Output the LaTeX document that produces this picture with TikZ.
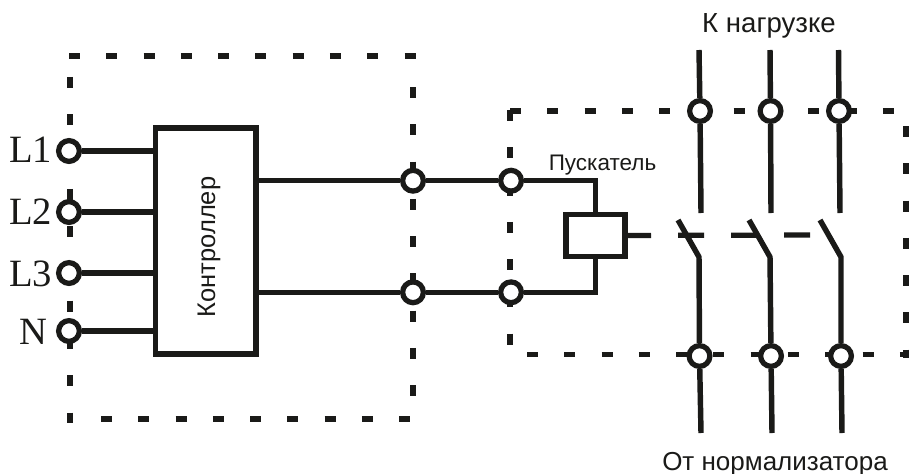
\documentclass[tikz,border=0pt]{standalone}
\usepackage{fontspec}
\setmainfont{Liberation Sans}
\newfontfamily\labelfont{Liberation Serif}
\usepackage{xcolor}
\definecolor{inkcol}{HTML}{1A1A18}
\usetikzlibrary{positioning}
\tikzset{
  wire/.style={line width=3.1pt,color=inkcol},
  boxline/.style={line width=3.3pt,color=inkcol,dash pattern=on 6.26pt off 14.96pt},
  linkline/.style={line width=3pt,color=inkcol,dash pattern=on 14.8pt off 15.4pt},
  terminal/.style={circle,draw=inkcol,fill=white,line width=3pt,minimum size=11.8pt,inner sep=0pt},
  blockbox/.style={draw=inkcol,fill=white,line width=3.1pt,inner sep=0pt,outer sep=0pt,anchor=north west},
  phase/.style={font=\labelfont\fontsize{22}{24}\selectfont,text=inkcol,inner sep=0pt,anchor=base west},
  caption/.style={text=inkcol,inner sep=0pt,anchor=base}
}
\begin{document}
\begin{tikzpicture}[line cap=butt,line join=miter,x=0.02cm,y=-0.02cm]
\useasboundingbox (0,0) rectangle (911,473);
% dashed enclosures
\draw [boxline] (69,56)-- (416,56);
\draw [boxline] (70,77)-- (70,423);
\draw [boxline] (413,87)-- (413,397);
\draw [boxline] (101,419)-- (411,419);
\draw [boxline] (510,111)-- (895,111);
\draw [boxline] (510,110)-- (510,346);
\draw [boxline] (527,354.5)-- (908,354.5);
\draw [boxline] (906,126)-- (906,358);
% terminals
\node [terminal] (tL1) at (69,151) {};
\node [terminal] (tL2) at (69,212) {};
\node [terminal] (tL3) at (69,273) {};
\node [terminal] (tN) at (69,331) {};
\node [terminal] (tA1) at (413,180.7) {};
\node [terminal] (tA2) at (413,292.3) {};
\node [terminal] (tB1) at (511,180.7) {};
\node [terminal] (tB2) at (511,292.3) {};
\node [terminal] (tU1) at (700,111) {};
\node [terminal] (tU2) at (770.5,111) {};
\node [terminal] (tU3) at (839,111) {};
\node [terminal] (tD1) at (699.5,356) {};
\node [terminal] (tD2) at (771,356) {};
\node [terminal] (tD3) at (841,356) {};
% blocks
\node [blockbox,minimum width=2.01cm,minimum height=4.52cm] (ctrl) at (155.5,128) {};
\node [rotate=90,font=\fontsize{14.5}{17}\selectfont,text=inkcol,inner sep=0pt] (ctrltext) at (209,247) {Контроллер};
\node [blockbox,minimum width=1.18cm,minimum height=0.84cm] (coil) at (566,214.5) {};
% labels
\node [phase] (lL1) at (9,162) {L1};
\node [phase] (lL2) at (9,224) {L2};
\node [phase] (lL3) at (9,286) {L3};
\node [phase] (lN) at (19,344) {N};
\node [caption,font=\fontsize{15.7}{18}\selectfont] (load) at (769,33) {К нагрузке};
\node [caption,font=\fontsize{14.8}{18}\selectfont] (normal) at (775,470) {От нормализатора};
\node [caption,font=\fontsize{12.8}{15}\selectfont] (starter) at (602.5,170) {Пускатель};
% controller wiring
\draw [wire] (tL1)-- (tL1 -| ctrl.west);
\draw [wire] (tL2)-- (tL2 -| ctrl.west);
\draw [wire] (tL3)-- (tL3 -| ctrl.west);
\draw [wire] (tN)-- (tN -| ctrl.west);
\draw [wire] (tA1 -| ctrl.east)-- (tA1);
\draw [wire] (tA2 -| ctrl.east)-- (tA2);
\draw [wire] (tA1)-- (tB1);
\draw [wire] (tA2)-- (tB2);
\draw [wire] (tB1)-| (coil.north);
\draw [wire] (tB2)-| (coil.south);
% contacts
\coordinate (inU1) at (699,50);
\coordinate (inU2) at (770,50);
\coordinate (inU3) at (838.5,50);
\coordinate (fixU1) at (701,213);
\coordinate (fixU2) at (771,213);
\coordinate (fixU3) at (840,213);
\coordinate (tipC1) at (678,220);
\coordinate (tipC2) at (749,220);
\coordinate (tipC3) at (820,220);
\coordinate (hingeC1) at (699,257);
\coordinate (hingeC2) at (770,257);
\coordinate (hingeC3) at (841,257);
\coordinate (outD1) at (701,433);
\coordinate (outD2) at (772,433);
\coordinate (outD3) at (842,433);
\coordinate (linkend) at (812,235);
\foreach \i in {1,2,3} {
  \draw [wire] (inU\i)-- (tU\i);
  \draw [wire] (tU\i)-- (fixU\i);
  \draw [wire,line join=round] (tipC\i)-- (hingeC\i)-- (tD\i);
  \draw [wire] (tD\i)-- (outD\i);
}
\draw [linkline] (coil.east)-- (linkend);
\end{tikzpicture}
\end{document}
